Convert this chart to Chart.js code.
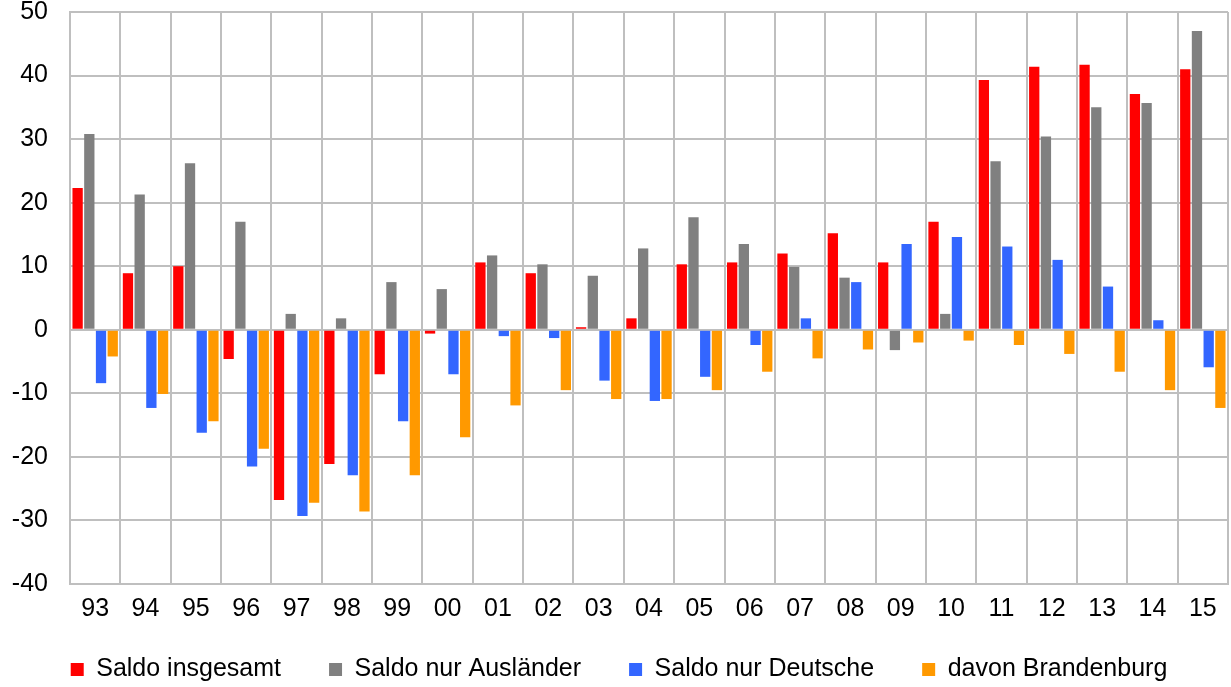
<!DOCTYPE html>
<html>
<head>
<meta charset="utf-8">
<script src="https://cdn.jsdelivr.net/npm/chart.js@4"></script>
<style>
  html, body { margin:0; padding:0; background:#fff; }
  #wrap { width:1231px; height:687px; }
</style>
</head>
<body>
<div id="wrap"><canvas id="chart" width="1231" height="687"></canvas></div>
<script>
// Daten
const jahre = ["93","94","95","96","97","98","99","00","01","02","03","04","05","06","07","08","09","10","11","12","13","14","15"];
const saldoInsgesamt = [22.3, 8.9, 10.0, -4.6, -26.8, -21.1, -7.0, -0.6, 10.6, 8.9, 0.4, 1.8, 10.3, 10.6, 12.0, 15.2, 10.6, 17.0, 39.3, 41.4, 41.7, 37.1, 41.0];
const saldoAuslaender = [30.8, 21.3, 26.2, 17.0, 2.5, 1.8, 7.5, 6.4, 11.7, 10.3, 8.5, 12.8, 17.7, 13.5, 9.9, 8.2, -3.2, 2.5, 26.5, 30.4, 35.0, 35.7, 47.0];
const saldoDeutsche = [-8.4, -12.3, -16.2, -21.5, -29.3, -22.9, -14.4, -7.0, -1.0, -1.3, -8.0, -11.2, -7.4, -2.4, 1.8, 7.5, 13.5, 14.6, 13.1, 11.0, 6.8, 1.5, -5.9];
const davonBrandenburg = [-4.2, -10.1, -14.4, -18.7, -27.2, -28.6, -22.9, -16.9, -11.9, -9.5, -10.9, -10.9, -9.5, -6.6, -4.5, -3.1, -2.0, -1.7, -2.4, -3.8, -6.6, -9.5, -12.3];

const gridFarbe = "#bfbfbf";
const schrift = { family: "'Liberation Sans', Arial, sans-serif", size: 25 };

const ctx = document.getElementById("chart").getContext("2d");
new Chart(ctx, {
  type: "bar",
  data: {
    labels: jahre,
    datasets: [
      { label: "Saldo insgesamt", data: saldoInsgesamt, backgroundColor: "#ff0000" },
      { label: "Saldo nur Ausländer", data: saldoAuslaender, backgroundColor: "#808080" },
      { label: "Saldo nur Deutsche", data: saldoDeutsche, backgroundColor: "#3366ff" },
      { label: "davon Brandenburg", data: davonBrandenburg, backgroundColor: "#ff9900" }
    ]
  },
  options: {
    responsive: false,
    animation: false,
    categoryPercentage: 0.93,
    barPercentage: 0.88,
    layout: { padding: { left: 10, right: 3, top: 0, bottom: -5 } },
    plugins: {
      legend: {
        position: "bottom",
        labels: {
          font: schrift,
          color: "#000",
          boxWidth: 13,
          boxHeight: 13,
          padding: 48
        }
      },
      tooltip: { enabled: false }
    },
    scales: {
      x: {
        grid: { color: gridFarbe, lineWidth: 2, drawTicks: false, offset: true },
        border: { color: gridFarbe, width: 2 },
        ticks: { font: schrift, color: "#000", padding: 10, maxRotation: 0, autoSkip: false },
        afterFit: function(scale) {
          // Achse etwas flacher, Beschriftung darf in den Legendenabstand ragen
          scale.height -= 25;
          scale.paddingLeft = 0;
          scale.paddingRight = 0;
          scale._computeLabelArea = function() { return undefined; };
        }
      },
      y: {
        min: -40,
        max: 50,
        grid: { color: gridFarbe, lineWidth: 2, drawTicks: false },
        border: { color: gridFarbe, width: 2 },
        ticks: { stepSize: 10, font: schrift, color: "#000", padding: 22 },
        afterFit: function(scale) {
          scale.width = 60;
          scale.paddingTop = 12;
          scale.paddingBottom = 0;
        }
      }
    }
  }
});
</script>
</body>
</html>
